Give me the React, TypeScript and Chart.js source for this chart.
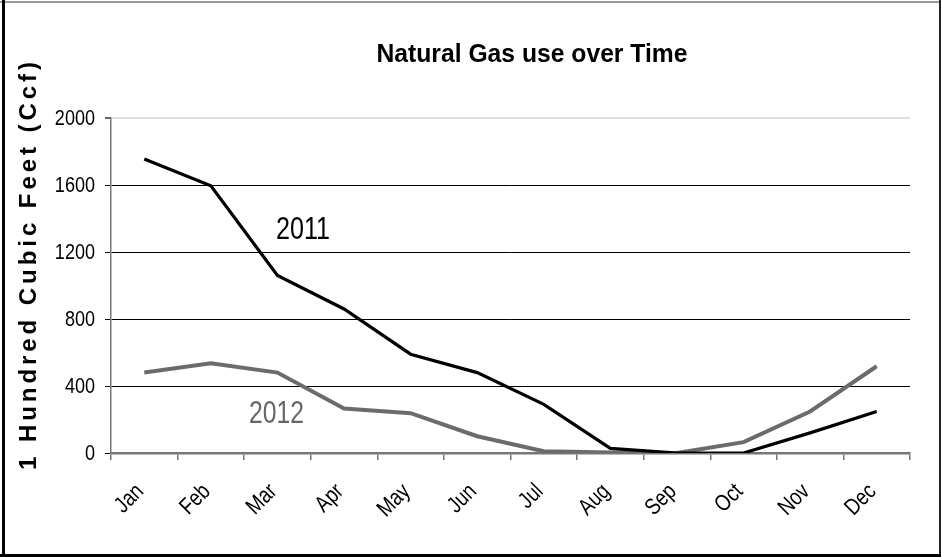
import React, { useEffect, useRef } from "react";
import { Chart, registerables } from "chart.js";

Chart.register(...registerables);

const months = ["Jan", "Feb", "Mar", "Apr", "May", "Jun", "Jul", "Aug", "Sep", "Oct", "Nov", "Dec"];
const use2011 = [1755, 1595, 1060, 860, 590, 480, 290, 28, 0, 0, 120, 248];
const use2012 = [480, 535, 480, 265, 238, 100, 10, 3, 0, 65, 248, 518];
const yTicks = [0, 400, 800, 1200, 1600, 2000];

const SANS = '"Liberation Sans", Arial, sans-serif';
const NARROW_SCALE = 0.82;

function squeezedText(ctx: any, text: string, x: number, y: number, sx: number, align: string, baseline: string) {
  ctx.save();
  ctx.translate(x, y);
  ctx.scale(sx, 1);
  ctx.textAlign = align;
  ctx.textBaseline = baseline;
  ctx.fillText(text, 0, 0);
  ctx.restore();
}

function fitText(ctx: any, text: string, cx: number, y: number, width: number) {
  const w = ctx.measureText(text).width;
  squeezedText(ctx, text, cx, y, width / w, "center", "alphabetic");
}

const textPlugin = {
  id: "textPlugin",
  beforeDraw(chart: any) {
    const ctx = chart.ctx;
    ctx.save();
    ctx.fillStyle = "#fff";
    ctx.fillRect(0, 0, chart.width, chart.height);
    ctx.fillStyle = "#999";
    ctx.fillRect(0, 1, chart.width, 2);
    ctx.fillStyle = "#000";
    ctx.fillRect(2, 0, 3, chart.height);
    ctx.fillStyle = "#222";
    ctx.fillRect(chart.width - 2, 0, 2, chart.height);
    ctx.fillStyle = "#000";
    ctx.fillRect(0, chart.height - 3, chart.width, 3);
    ctx.restore();
  },
  afterDraw(chart: any) {
    const ctx = chart.ctx;
    const xs = chart.scales.x;
    const ys = chart.scales.y;
    ctx.save();
    ctx.fillStyle = "#000";

    // y tick labels
    ctx.font = `22px ${SANS}`;
    yTicks.forEach((v) => {
      squeezedText(ctx, String(v), 95, ys.getPixelForValue(v) + 1, NARROW_SCALE, "right", "middle");
    });

    // x tick labels, rotated
    ctx.font = `23px ${SANS}`;
    months.forEach((m, i) => {
      const cx = xs.getPixelForValue(i);
      ctx.save();
      ctx.translate(cx - 4, xs.top + 35);
      ctx.rotate(-Math.PI / 4);
      ctx.scale(NARROW_SCALE, 1);
      ctx.textAlign = "right";
      ctx.textBaseline = "middle";
      ctx.fillText(m, 0, 0);
      ctx.restore();
    });

    // title
    ctx.font = `bold 25px ${SANS}`;
    fitText(ctx, "Natural Gas use over Time", 532, 62, 311);

    // series labels
    ctx.font = `32px ${SANS}`;
    ctx.fillStyle = "#000";
    fitText(ctx, "2011", xs.getPixelForValue(2.384), ys.getPixelForValue(1278), 54);
    ctx.fillStyle = "#666";
    fitText(ctx, "2012", xs.getPixelForValue(1.986), ys.getPixelForValue(179), 55);

    // y title with letter spacing
    const yt = "1 Hundred Cubic Feet (Ccf)";
    ctx.font = `bold 24px ${SANS}`;
    const target = 408;
    ctx.letterSpacing = "0px";
    const w = ctx.measureText(yt).width;
    const ls = (target - w) / (yt.length - 1);
    ctx.letterSpacing = `${ls}px`;
    ctx.translate(36, 266);
    ctx.rotate(-Math.PI / 2);
    ctx.fillStyle = "#000";
    ctx.textAlign = "left";
    ctx.textBaseline = "alphabetic";
    ctx.fillText(yt, -target / 2, 0);
    ctx.restore();
  },
};

export default function App() {
  const ref = useRef<HTMLCanvasElement>(null);
  useEffect(() => {
    if (!ref.current) return;
    const chart = new Chart(ref.current, {
      type: "line",
      data: {
        labels: months,
        datasets: [
          {
            label: "2011",
            data: use2011,
            borderColor: "#000",
            borderWidth: 3.2,
            pointRadius: 0,
            tension: 0,
          },
          {
            label: "2012",
            data: use2012,
            borderColor: "#6b6b6b",
            borderWidth: 4,
            pointRadius: 0,
            tension: 0,
          },
        ],
      },
      options: {
        animation: false,
        responsive: false,
        layout: { padding: { left: 0, top: 118, right: 31, bottom: 0 } },
        plugins: { legend: { display: false }, title: { display: false }, tooltip: { enabled: false } },
        scales: {
          x: {
            offset: true,
            grid: {
              offset: true,
              drawOnChartArea: false,
              drawTicks: true,
              tickLength: 7,
              color: "#777",
              lineWidth: 1.5,
            },
            border: { color: "#777", width: 2.5 },
            ticks: { display: false },
            afterFit: (s: any) => {
              s.height = 104;
            },
          },
          y: {
            min: 0,
            max: 2000,
            afterBuildTicks: (s: any) => {
              s.ticks = yTicks.map((v) => ({ value: v }));
            },
            grid: {
              tickLength: 6,
              color: (c: any) => (c.tick && c.tick.value === 2000 ? "#dcdcdc" : "#000"),
              tickColor: (c: any) => (c.tick && c.tick.value === 2000 ? "#666" : "#000"),
              lineWidth: (c: any) => (c.tick && c.tick.value === 2000 ? 2 : 1),
            },
            border: { color: "#777", width: 1.5 },
            ticks: { display: false },
            afterFit: (s: any) => {
              s.width = 111;
            },
          },
        },
      },
      plugins: [textPlugin],
    });
    return () => chart.destroy();
  }, []);
  return (
    <div style={{ position: "fixed", left: 0, top: 0, width: 941, height: 557 }}>
      <canvas ref={ref} width={941} height={557} style={{ width: 941, height: 557, display: "block" }} />
    </div>
  );
}
